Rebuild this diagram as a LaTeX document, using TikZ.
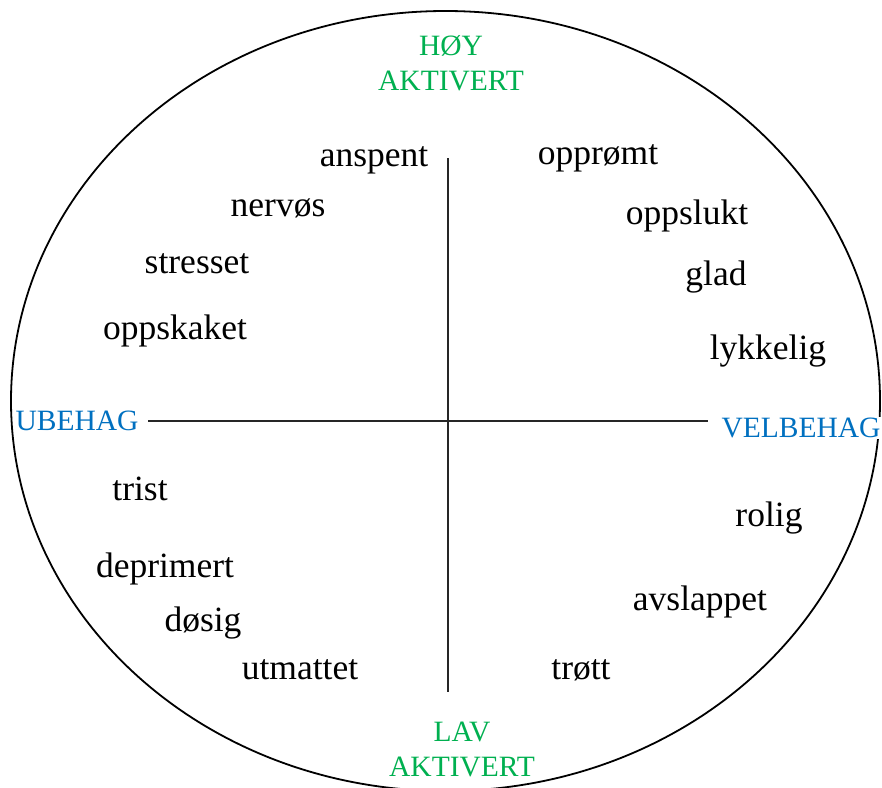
\documentclass[tikz,border=0pt]{standalone}
\usepackage{fontspec}
\setmainfont{Liberation Serif}
\definecolor{agreen}{HTML}{00B050}
\definecolor{ablue}{HTML}{0070C0}
\begin{document}
\begin{tikzpicture}[x=1pt,y=-1pt,
  word/.style={font=\fontsize{35.5}{38}\selectfont, inner sep=0pt, text=black},
  glabel/.style={font=\fontsize{29.5}{35}\selectfont, inner sep=1pt, fill=white, text=agreen, align=center},
  blabel/.style={font=\fontsize{29.5}{34}\selectfont, inner sep=1pt, fill=white, text=ablue},
  axis/.style={line width=1.3pt, draw=black!85}]
\useasboundingbox (0,0) rectangle (882,787);
\begin{scope}
\clip (0,0) rectangle (882,787);
\draw[line width=1.8pt] (445.5,401) ellipse [x radius=434.5, y radius=390];
\end{scope}
\coordinate (hl) at (148,421);
\coordinate (hr) at (708,421);
\coordinate (vt) at (448,158);
\coordinate (vb) at (448,692);
\draw[axis] (hl) -- (hr);
\draw[axis] (vt) -- (vb);
\node[glabel] (hoy) at (451,63) {HØY\\AKTIVERT};
\node[glabel] (lav) at (462,749) {LAV\\AKTIVERT};
\node[blabel] (ube) at (77,421) {UBEHAG};
\node[blabel] (vel) at (801,428) {VELBEHAG};
\node[word] (w1) at (374,160) {anspent};
\node[word] (w2) at (598,158) {opprømt};
\node[word] (w3) at (278,208) {nervøs};
\node[word] (w4) at (687,216) {oppslukt};
\node[word] (w5) at (197,264) {stresset};
\node[word] (w6) at (716,277) {glad};
\node[word] (w7) at (175,331) {oppskaket};
\node[word] (w8) at (768,351) {lykkelig};
\node[word] (w9) at (140,489) {trist};
\node[word] (w10) at (769,518) {rolig};
\node[word] (w11) at (165,569) {deprimert};
\node[word] (w12) at (700,602) {avslappet};
\node[word] (w13) at (203,623) {døsig};
\node[word] (w14) at (300,670) {utmattet};
\node[word] (w15) at (581,670) {trøtt};
\end{tikzpicture}
\end{document}
